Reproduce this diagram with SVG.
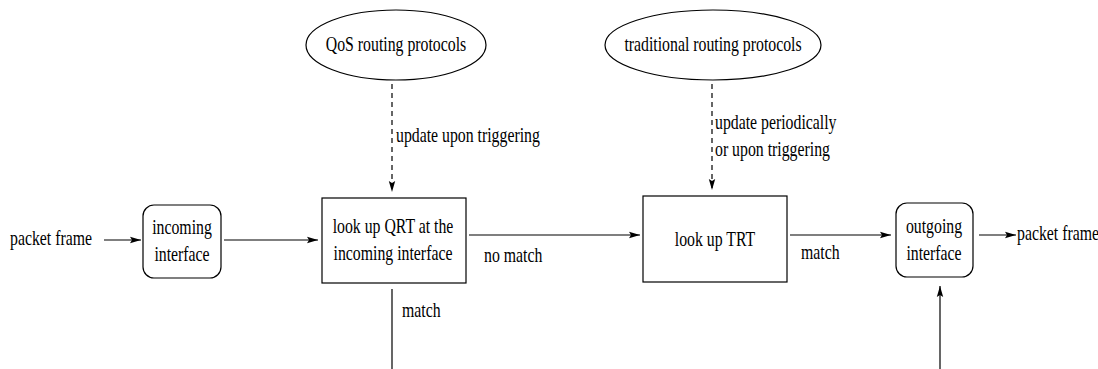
<svg xmlns="http://www.w3.org/2000/svg" width="1098" height="369" viewBox="0 0 1098 369">
  <style>
    .shape { fill: #fff; stroke: #000; stroke-width: 1.2; }
    .line { fill: none; stroke: #000; stroke-width: 1.2; }
    .dash { stroke-dasharray: 5 4; }
    .t { font-family: "Liberation Serif", "Times New Roman", serif; font-size: 20px; fill: #000; }
    .m { text-anchor: middle; }
  </style>
  <defs>
    <marker id="arrow" markerUnits="userSpaceOnUse" markerWidth="12" markerHeight="8" refX="11" refY="4" orient="auto">
      <path d="M0,0.8 L11,4 L0,7.2 L2,4 Z" fill="#000"/>
    </marker>
  </defs>

  <rect width="1098" height="369" fill="#fff"/>

  <!-- connectors and their labels -->
  <g id="connectors">
    <line class="line" x1="104" y1="240" x2="141" y2="240" marker-end="url(#arrow)"/>
    <line class="line" x1="224" y1="240" x2="318" y2="240" marker-end="url(#arrow)"/>
    <line class="line" x1="469" y1="235" x2="640" y2="235" marker-end="url(#arrow)"/>
    <line class="line" x1="790" y1="235" x2="891" y2="235" marker-end="url(#arrow)"/>
    <line class="line" x1="979" y1="235" x2="1016" y2="235" marker-end="url(#arrow)"/>
    <line class="line" x1="940" y1="369" x2="940" y2="286" marker-end="url(#arrow)"/>
    <line class="line" x1="392" y1="289" x2="392" y2="369"/>
    <line class="line dash" x1="392" y1="84" x2="392" y2="192" marker-end="url(#arrow)"/>
    <line class="line dash" x1="712" y1="84" x2="712" y2="190" marker-end="url(#arrow)"/>

    <text class="t" transform="translate(396,142) scale(0.79,1)">update upon triggering</text>
    <text class="t" transform="translate(715,129) scale(0.79,1)">update periodically</text>
    <text class="t" transform="translate(715,156) scale(0.79,1)">or upon triggering</text>
    <text class="t" transform="translate(484,262) scale(0.79,1)">no match</text>
    <text class="t" transform="translate(402,317) scale(0.79,1)">match</text>
    <text class="t" transform="translate(801,259) scale(0.79,1)">match</text>
  </g>

  <g id="packet-in">
    <text class="t" transform="translate(10,245) scale(0.79,1)">packet frame</text>
  </g>

  <g id="incoming-interface">
    <rect class="shape" x="143" y="205" width="78" height="73" rx="11"/>
    <text class="t m" transform="translate(182,234) scale(0.79,1)">incoming</text>
    <text class="t m" transform="translate(182,261) scale(0.79,1)">interface</text>
  </g>

  <g id="qos-protocols">
    <ellipse class="shape" cx="396" cy="45" rx="90" ry="35"/>
    <text class="t m" transform="translate(396,51) scale(0.79,1)">QoS routing protocols</text>
  </g>

  <g id="lookup-qrt">
    <rect class="shape" x="322" y="198" width="144" height="85"/>
    <text class="t m" transform="translate(393,233) scale(0.79,1)">look up QRT at the</text>
    <text class="t m" transform="translate(393,260) scale(0.79,1)">incoming interface</text>
  </g>

  <g id="traditional-protocols">
    <ellipse class="shape" cx="713" cy="45" rx="108" ry="35"/>
    <text class="t m" transform="translate(713,51) scale(0.79,1)">traditional routing protocols</text>
  </g>

  <g id="lookup-trt">
    <rect class="shape" x="643" y="196" width="144" height="86"/>
    <text class="t m" transform="translate(715,246) scale(0.79,1)">look up TRT</text>
  </g>

  <g id="outgoing-interface">
    <rect class="shape" x="896" y="203" width="77" height="74" rx="11"/>
    <text class="t m" transform="translate(934,233) scale(0.79,1)">outgoing</text>
    <text class="t m" transform="translate(934,260) scale(0.79,1)">interface</text>
  </g>

  <g id="packet-out">
    <text class="t" transform="translate(1017,240) scale(0.79,1)">packet frame</text>
  </g>
</svg>
